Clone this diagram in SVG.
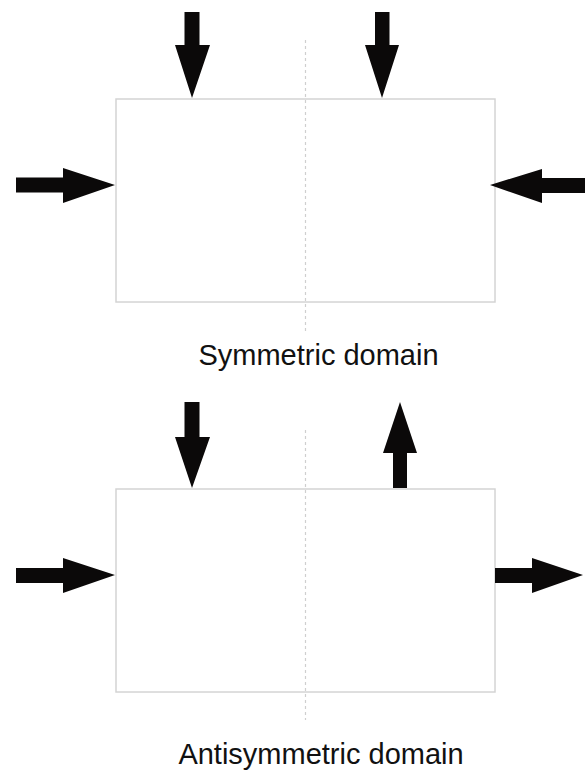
<svg xmlns="http://www.w3.org/2000/svg" width="585" height="771" viewBox="0 0 585 771">
<style>
.box{fill:none;stroke:#d4d4d4;stroke-width:1.5}
.axis{stroke:#cfcfcf;stroke-width:1.2;stroke-dasharray:3 3;fill:none}
.arrow{fill:#0b0909;stroke:none}
.label{font-family:"Liberation Sans",Arial,sans-serif;font-size:29px;fill:#111111;text-anchor:middle}
</style>
<rect width="585" height="771" fill="#ffffff"/>
<g id="symmetric">
  <g id="sym-box"><rect class="box" x="116" y="99" width="379" height="203"/></g>
  <g id="sym-axis"><line class="axis" x1="305.5" y1="40" x2="305.5" y2="332"/></g>
  <g id="sym-label"><text class="label" x="318.5" y="365">Symmetric domain</text></g>
</g>
<g id="antisymmetric">
  <g id="anti-box"><rect class="box" x="116" y="489" width="379" height="203"/></g>
  <g id="anti-axis"><line class="axis" x1="305.5" y1="430" x2="305.5" y2="720"/></g>
  <g id="anti-label"><text class="label" x="321" y="764">Antisymmetric domain</text></g>
</g>
<g id="connectors">
  <polygon class="arrow" points="184.5,12 199.5,12 199.5,45 210,45 192,98 175,45 184.5,45"/>
  <polygon class="arrow" points="375,12 389.5,12 389.5,45 399,45 382,98 365,45 375,45"/>
  <polygon class="arrow" points="16,177.5 63,177.5 63,168 115,185 63,203 63,192.5 16,192.5"/>
  <polygon class="arrow" points="585,178 542,178 542,169 490,185 542,203 542,193 585,193"/>
  <polygon class="arrow" points="184.5,402 199.5,402 199.5,437 210,437 192,488 175,437 184.5,437"/>
  <polygon class="arrow" points="393,488 407,488 407,453 417,453 400,402 383,453 393,453"/>
  <polygon class="arrow" points="16,568 63,568 63,558 115,575 63,593 63,583 16,583"/>
  <polygon class="arrow" points="495,568 532,568 532,558 583,575 532,593 532,583 495,583"/>
</g>
</svg>
